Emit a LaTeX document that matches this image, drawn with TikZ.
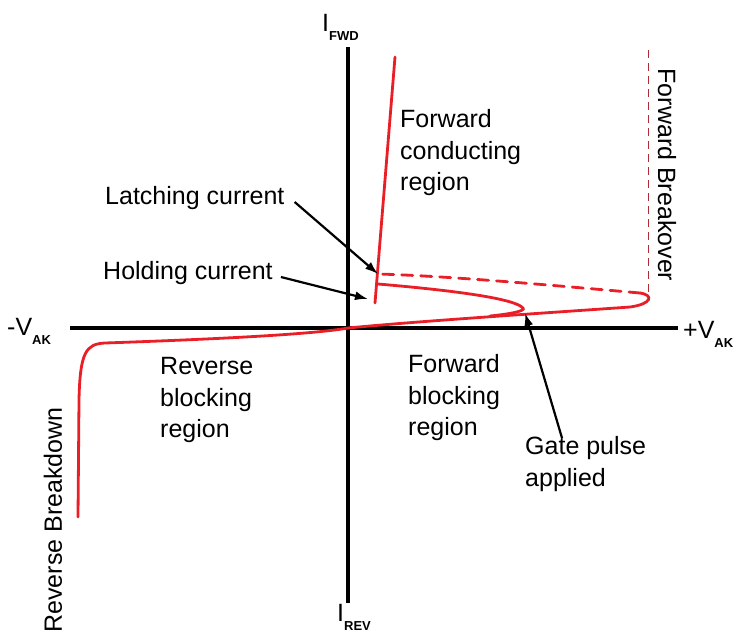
\documentclass[tikz,border=0pt]{standalone}
\usepackage{fontspec}
\setmainfont{Liberation Sans}
\usetikzlibrary{arrows.meta}
\definecolor{curvered}{RGB}{234,30,38}
\definecolor{breakred}{RGB}{175,45,55}
\newcommand{\axsub}[1]{\raisebox{-9pt}{\fontsize{13}{13}\selectfont\bfseries #1}}

\begin{document}
\begin{tikzpicture}[x=1pt, y=-1pt,
    axis/.style={line width=3.5pt, black},
    curve/.style={line width=2.8pt, curvered, line cap=round},
    label/.style={inner sep=0pt, align=left, font=\fontsize{25}{31.5}\selectfont},
    pointer/.style={line width=2.2pt, black, -{Latex[length=13pt,width=9pt]}}]
  \useasboundingbox (0,0) rectangle (744,634);

  % axes
  \coordinate (xleft) at (70,328);
  \coordinate (xright) at (678,328);
  \coordinate (ytop) at (348,47);
  \coordinate (ybot) at (348,603);
  \draw[axis] (xleft) -- (xright);
  \draw[axis] (ybot) -- (ytop);

  \node[label, anchor=base west] (vneg) at (7,335) {-V\axsub{AK}};
  \node[label, anchor=base west] (vpos) at (683,338) {+V\axsub{AK}};
  \node[label, anchor=base west] (ifwd) at (322,32) {I\axsub{FWD}};
  \node[label, anchor=base west] (irev) at (337,621) {I\axsub{REV}};

  % characteristic
  \coordinate (origin) at (348,328);
  \coordinate (revend) at (78,517);
  \coordinate (revknee) at (105,343);
  \coordinate (fbtip) at (640,293);
  \coordinate (latchpt) at (378,274);
  \coordinate (holdpt) at (378,284);
  \coordinate (condbot) at (375,303);
  \coordinate (condtop) at (395,57);
  \draw[curve] (revend) -- (79,400) .. controls (80,352) and (86,344) .. (revknee)
    .. controls (250,338) and (320,333) .. (origin);
  \draw[curve] (origin) .. controls (420,321) and (560,312) .. (630,307)
    .. controls (652,304) and (654,295) .. (fbtip);
  \draw[curve, dash pattern=on 11pt off 8pt] (fbtip) .. controls (560,286) and (450,276) .. (latchpt);
  \draw[curve] (holdpt) .. controls (460,291) and (515,299) .. (523,308)
    .. controls (526,311) and (510,314) .. (490,316);
  \draw[curve] (condbot) -- (condtop);

  % breakover limit
  \coordinate (bktop) at (648,50);
  \coordinate (bkbot) at (648,300);
  \draw[breakred, line width=1pt, dash pattern=on 8pt off 5pt] (bktop) -- (bkbot);
  \node[label, rotate=-90] (fbreak) at (667,175) {Forward Breakover};
  \node[label, rotate=90] (rbreak) at (53,520) {Reverse Breakdown};

  % region labels
  \node[label, anchor=west] (fcond) at (400,153) {Forward\\conducting\\region};
  \node[label, anchor=west] (rblock) at (160,400) {Reverse\\blocking\\region};
  \node[label, anchor=west] (fblock) at (408,398) {Forward\\blocking\\region};
  \node[label, anchor=west] (latch) at (105,198) {Latching current};
  \node[label, anchor=west] (hold) at (103,273) {Holding current};
  \node[label, anchor=west] (gate) at (525,464) {Gate pulse\\applied};

  % pointers
  \coordinate (gatetail) at (562,438);
  \coordinate (gatetip) at (525,313);
  \draw[pointer] (latch.east) ++(10,4) -- (latchpt);
  \draw[pointer] (hold.east) ++(8,4) -- (368,299);
  \draw[pointer] (gatetail) -- (gatetip);
\end{tikzpicture}
\end{document}
